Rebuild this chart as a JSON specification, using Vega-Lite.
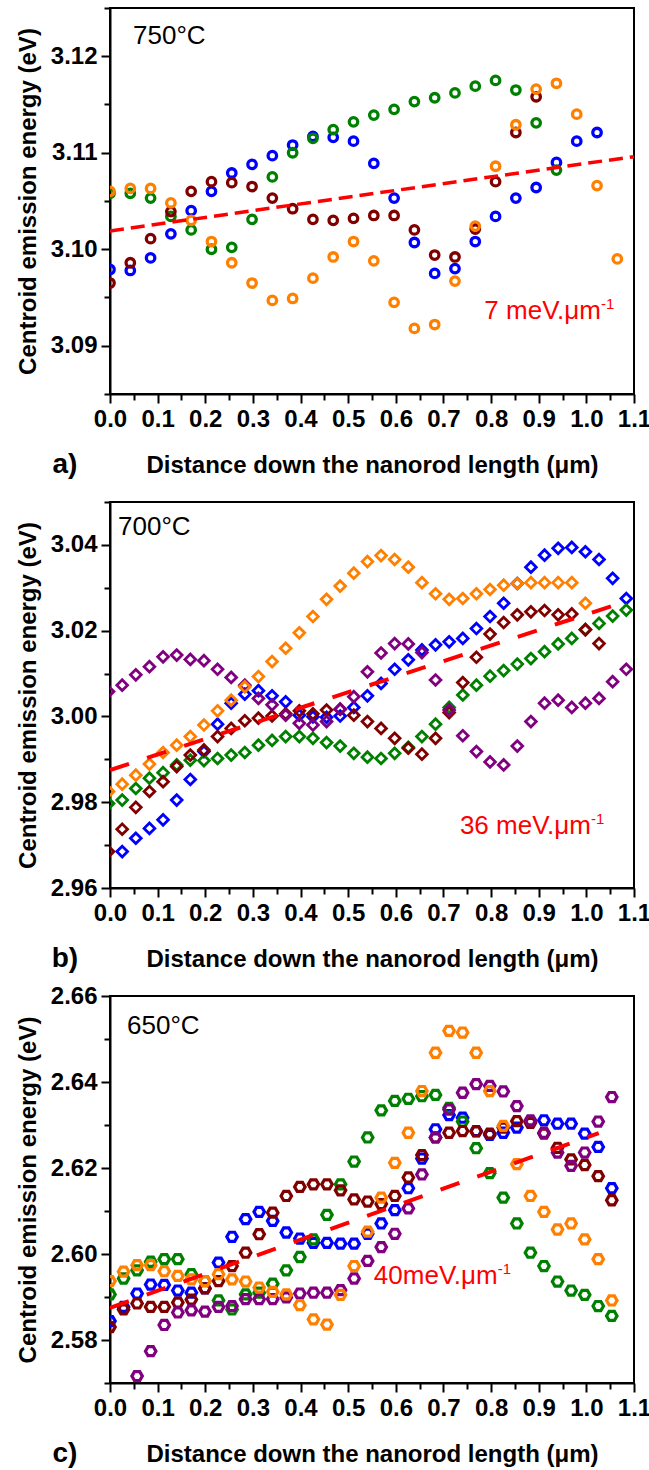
{
"$schema":"https://vega.github.io/schema/vega-lite/v6.json",
"padding":{"left":15,"top":6,"right":0,"bottom":0},
"spacing":108,
"bounds":"flush",
"config":{
"font":"Liberation Sans",
"view":{"stroke":"black","strokeWidth":2},
"axis":{"labelFont":"Liberation Sans","labelFontSize":24,"labelFontWeight":"bold","labelColor":"black","titleFont":"Liberation Sans","titleFontSize":24,"titleFontWeight":"bold","titleColor":"black","tickColor":"black","tickWidth":2,"domainColor":"black","domainWidth":2,"grid":false,"labelFlush":false,"labelOverlap":false}
},
"datasets":{
"a":[
{"s":"blue","x":0,"y":3.0979},{"s":"blue","x":0.0426,"y":3.0978},{"s":"blue","x":0.0852,"y":3.0991},{"s":"blue","x":0.1278,"y":3.1016},{"s":"blue","x":0.1704,"y":3.104},{"s":"blue","x":0.213,"y":3.106},{"s":"blue","x":0.2556,"y":3.1079},{"s":"blue","x":0.2982,"y":3.1088},{"s":"blue","x":0.3408,"y":3.1097},{"s":"blue","x":0.3834,"y":3.1108},{"s":"blue","x":0.426,"y":3.1117},{"s":"blue","x":0.4686,"y":3.1116},{"s":"blue","x":0.5112,"y":3.1112},{"s":"blue","x":0.5538,"y":3.1089},{"s":"blue","x":0.5964,"y":3.1053},{"s":"blue","x":0.639,"y":3.1007},{"s":"blue","x":0.6816,"y":3.0975},{"s":"blue","x":0.7242,"y":3.098},{"s":"blue","x":0.7668,"y":3.1008},{"s":"blue","x":0.8094,"y":3.1034},{"s":"blue","x":0.852,"y":3.1053},{"s":"blue","x":0.8946,"y":3.1064},{"s":"blue","x":0.9372,"y":3.109},{"s":"blue","x":0.9798,"y":3.1112},{"s":"blue","x":1.0224,"y":3.1121},
{"s":"green","x":0,"y":3.1058},{"s":"green","x":0.0426,"y":3.1058},{"s":"green","x":0.0852,"y":3.1053},{"s":"green","x":0.1278,"y":3.1034},{"s":"green","x":0.1704,"y":3.102},{"s":"green","x":0.213,"y":3.1},{"s":"green","x":0.2556,"y":3.1002},{"s":"green","x":0.2982,"y":3.1031},{"s":"green","x":0.3408,"y":3.1075},{"s":"green","x":0.3834,"y":3.11},{"s":"green","x":0.426,"y":3.1115},{"s":"green","x":0.4686,"y":3.1124},{"s":"green","x":0.5112,"y":3.1132},{"s":"green","x":0.5538,"y":3.1139},{"s":"green","x":0.5964,"y":3.1145},{"s":"green","x":0.639,"y":3.1153},{"s":"green","x":0.6816,"y":3.1157},{"s":"green","x":0.7242,"y":3.1162},{"s":"green","x":0.7668,"y":3.1169},{"s":"green","x":0.8094,"y":3.1175},{"s":"green","x":0.852,"y":3.1165},{"s":"green","x":0.8946,"y":3.1131},{"s":"green","x":0.9372,"y":3.1082},
{"s":"darkred","x":0,"y":3.0965},{"s":"darkred","x":0.0426,"y":3.0986},{"s":"darkred","x":0.0852,"y":3.1011},{"s":"darkred","x":0.1278,"y":3.1039},{"s":"darkred","x":0.1704,"y":3.106},{"s":"darkred","x":0.213,"y":3.107},{"s":"darkred","x":0.2556,"y":3.1069},{"s":"darkred","x":0.2982,"y":3.1065},{"s":"darkred","x":0.3408,"y":3.1053},{"s":"darkred","x":0.3834,"y":3.1042},{"s":"darkred","x":0.426,"y":3.1031},{"s":"darkred","x":0.4686,"y":3.103},{"s":"darkred","x":0.5112,"y":3.1032},{"s":"darkred","x":0.5538,"y":3.1035},{"s":"darkred","x":0.5964,"y":3.1035},{"s":"darkred","x":0.639,"y":3.102},{"s":"darkred","x":0.6816,"y":3.0994},{"s":"darkred","x":0.7242,"y":3.0992},{"s":"darkred","x":0.7668,"y":3.1021},{"s":"darkred","x":0.8094,"y":3.107},{"s":"darkred","x":0.852,"y":3.1121},{"s":"darkred","x":0.8946,"y":3.1158},
{"s":"orange","x":0,"y":3.106},{"s":"orange","x":0.0426,"y":3.1063},{"s":"orange","x":0.0852,"y":3.1063},{"s":"orange","x":0.1278,"y":3.1048},{"s":"orange","x":0.1704,"y":3.103},{"s":"orange","x":0.213,"y":3.1008},{"s":"orange","x":0.2556,"y":3.0986},{"s":"orange","x":0.2982,"y":3.0965},{"s":"orange","x":0.3408,"y":3.0947},{"s":"orange","x":0.3834,"y":3.0949},{"s":"orange","x":0.426,"y":3.097},{"s":"orange","x":0.4686,"y":3.0992},{"s":"orange","x":0.5112,"y":3.1008},{"s":"orange","x":0.5538,"y":3.0988},{"s":"orange","x":0.5964,"y":3.0945},{"s":"orange","x":0.639,"y":3.0918},{"s":"orange","x":0.6816,"y":3.0922},{"s":"orange","x":0.7242,"y":3.0967},{"s":"orange","x":0.7668,"y":3.1024},{"s":"orange","x":0.8094,"y":3.1086},{"s":"orange","x":0.852,"y":3.1129},{"s":"orange","x":0.8946,"y":3.1166},{"s":"orange","x":0.9372,"y":3.1172},{"s":"orange","x":0.9798,"y":3.114},{"s":"orange","x":1.0224,"y":3.1066},{"s":"orange","x":1.065,"y":3.099}
],
"b":[
{"s":"blue","x":0.0256,"y":2.9685},{"s":"blue","x":0.0542,"y":2.9716},{"s":"blue","x":0.0828,"y":2.9739},{"s":"blue","x":0.1114,"y":2.9759},{"s":"blue","x":0.14,"y":2.9805},{"s":"blue","x":0.1686,"y":2.9853},{"s":"blue","x":0.1972,"y":2.9918},{"s":"blue","x":0.2258,"y":2.9982},{"s":"blue","x":0.2544,"y":3.0031},{"s":"blue","x":0.283,"y":3.0052},{"s":"blue","x":0.3116,"y":3.006},{"s":"blue","x":0.3402,"y":3.0048},{"s":"blue","x":0.3688,"y":3.0034},{"s":"blue","x":0.3974,"y":3.0003},{"s":"blue","x":0.426,"y":2.9999},{"s":"blue","x":0.4546,"y":2.9998},{"s":"blue","x":0.4832,"y":3.0001},{"s":"blue","x":0.5118,"y":3.0021},{"s":"blue","x":0.5404,"y":3.0048},{"s":"blue","x":0.569,"y":3.0077},{"s":"blue","x":0.5976,"y":3.011},{"s":"blue","x":0.6262,"y":3.0132},{"s":"blue","x":0.6548,"y":3.0155},{"s":"blue","x":0.6834,"y":3.0167},{"s":"blue","x":0.712,"y":3.0174},{"s":"blue","x":0.7406,"y":3.0182},{"s":"blue","x":0.7692,"y":3.0205},{"s":"blue","x":0.7978,"y":3.0233},{"s":"blue","x":0.8264,"y":3.0264},{"s":"blue","x":0.855,"y":3.031},{"s":"blue","x":0.8836,"y":3.0348},{"s":"blue","x":0.9122,"y":3.0376},{"s":"blue","x":0.9408,"y":3.0392},{"s":"blue","x":0.9694,"y":3.0394},{"s":"blue","x":0.998,"y":3.0384},{"s":"blue","x":1.0266,"y":3.0366},{"s":"blue","x":1.0552,"y":3.0322},{"s":"blue","x":1.0838,"y":3.0275},
{"s":"green","x":-0.003,"y":2.9797},{"s":"green","x":0.0256,"y":2.9805},{"s":"green","x":0.0542,"y":2.9832},{"s":"green","x":0.0828,"y":2.9856},{"s":"green","x":0.1114,"y":2.9869},{"s":"green","x":0.14,"y":2.9887},{"s":"green","x":0.1686,"y":2.9898},{"s":"green","x":0.1972,"y":2.9897},{"s":"green","x":0.2258,"y":2.9902},{"s":"green","x":0.2544,"y":2.991},{"s":"green","x":0.283,"y":2.9916},{"s":"green","x":0.3116,"y":2.9933},{"s":"green","x":0.3402,"y":2.9944},{"s":"green","x":0.3688,"y":2.9953},{"s":"green","x":0.3974,"y":2.9953},{"s":"green","x":0.426,"y":2.9949},{"s":"green","x":0.4546,"y":2.9939},{"s":"green","x":0.4832,"y":2.9931},{"s":"green","x":0.5118,"y":2.9914},{"s":"green","x":0.5404,"y":2.9905},{"s":"green","x":0.569,"y":2.9902},{"s":"green","x":0.5976,"y":2.9914},{"s":"green","x":0.6262,"y":2.9928},{"s":"green","x":0.6548,"y":2.9953},{"s":"green","x":0.6834,"y":2.9982},{"s":"green","x":0.712,"y":3.0021},{"s":"green","x":0.7406,"y":3.005},{"s":"green","x":0.7692,"y":3.0073},{"s":"green","x":0.7978,"y":3.0094},{"s":"green","x":0.8264,"y":3.0107},{"s":"green","x":0.855,"y":3.0122},{"s":"green","x":0.8836,"y":3.0135},{"s":"green","x":0.9122,"y":3.0151},{"s":"green","x":0.9408,"y":3.0169},{"s":"green","x":0.9694,"y":3.0182},{"s":"green","x":0.998,"y":3.0203},{"s":"green","x":1.0266,"y":3.0217},{"s":"green","x":1.0552,"y":3.0234},{"s":"green","x":1.0838,"y":3.0248},
{"s":"darkred","x":-0.003,"y":2.9685},{"s":"darkred","x":0.0256,"y":2.9737},{"s":"darkred","x":0.0542,"y":2.9788},{"s":"darkred","x":0.0828,"y":2.9825},{"s":"darkred","x":0.1114,"y":2.9848},{"s":"darkred","x":0.14,"y":2.9883},{"s":"darkred","x":0.1686,"y":2.991},{"s":"darkred","x":0.1972,"y":2.9922},{"s":"darkred","x":0.2258,"y":2.9953},{"s":"darkred","x":0.2544,"y":2.9972},{"s":"darkred","x":0.283,"y":2.999},{"s":"darkred","x":0.3116,"y":2.9996},{"s":"darkred","x":0.3402,"y":3.0001},{"s":"darkred","x":0.3688,"y":3.0006},{"s":"darkred","x":0.3974,"y":3.0013},{"s":"darkred","x":0.426,"y":3.0006},{"s":"darkred","x":0.4546,"y":3.0015},{"s":"darkred","x":0.4832,"y":3.0017},{"s":"darkred","x":0.5118,"y":3.0003},{"s":"darkred","x":0.5404,"y":2.9988},{"s":"darkred","x":0.569,"y":2.9972},{"s":"darkred","x":0.5976,"y":2.9949},{"s":"darkred","x":0.6262,"y":2.9926},{"s":"darkred","x":0.6548,"y":2.9912},{"s":"darkred","x":0.6834,"y":2.9949},{"s":"darkred","x":0.712,"y":3.0009},{"s":"darkred","x":0.7406,"y":3.0079},{"s":"darkred","x":0.7692,"y":3.0138},{"s":"darkred","x":0.7978,"y":3.0192},{"s":"darkred","x":0.8264,"y":3.0219},{"s":"darkred","x":0.855,"y":3.0237},{"s":"darkred","x":0.8836,"y":3.0244},{"s":"darkred","x":0.9122,"y":3.0247},{"s":"darkred","x":0.9408,"y":3.0237},{"s":"darkred","x":0.9694,"y":3.0239},{"s":"darkred","x":0.998,"y":3.0202},{"s":"darkred","x":1.0266,"y":3.017},
{"s":"purple","x":-0.003,"y":3.0058},{"s":"purple","x":0.0256,"y":3.0073},{"s":"purple","x":0.0542,"y":3.0097},{"s":"purple","x":0.0828,"y":3.0116},{"s":"purple","x":0.1114,"y":3.0139},{"s":"purple","x":0.14,"y":3.0143},{"s":"purple","x":0.1686,"y":3.0133},{"s":"purple","x":0.1972,"y":3.013},{"s":"purple","x":0.2258,"y":3.011},{"s":"purple","x":0.2544,"y":3.0091},{"s":"purple","x":0.283,"y":3.0073},{"s":"purple","x":0.3116,"y":3.0042},{"s":"purple","x":0.3402,"y":3.0027},{"s":"purple","x":0.3688,"y":3.0003},{"s":"purple","x":0.3974,"y":2.9984},{"s":"purple","x":0.426,"y":2.998},{"s":"purple","x":0.4546,"y":2.9988},{"s":"purple","x":0.4832,"y":3.0017},{"s":"purple","x":0.5118,"y":3.0046},{"s":"purple","x":0.5404,"y":3.0104},{"s":"purple","x":0.569,"y":3.0148},{"s":"purple","x":0.5976,"y":3.017},{"s":"purple","x":0.6262,"y":3.0169},{"s":"purple","x":0.6548,"y":3.0149},{"s":"purple","x":0.6834,"y":3.0085},{"s":"purple","x":0.712,"y":3.0015},{"s":"purple","x":0.7406,"y":2.9955},{"s":"purple","x":0.7692,"y":2.9918},{"s":"purple","x":0.7978,"y":2.9894},{"s":"purple","x":0.8264,"y":2.9887},{"s":"purple","x":0.855,"y":2.9931},{"s":"purple","x":0.8836,"y":2.9988},{"s":"purple","x":0.9122,"y":3.0031},{"s":"purple","x":0.9408,"y":3.0038},{"s":"purple","x":0.9694,"y":3.0021},{"s":"purple","x":0.998,"y":3.0031},{"s":"purple","x":1.0266,"y":3.0042},{"s":"purple","x":1.0552,"y":3.0081},{"s":"purple","x":1.0838,"y":3.011},
{"s":"orange","x":-0.003,"y":2.9825},{"s":"orange","x":0.0256,"y":2.9842},{"s":"orange","x":0.0542,"y":2.9863},{"s":"orange","x":0.0828,"y":2.9889},{"s":"orange","x":0.1114,"y":2.9916},{"s":"orange","x":0.14,"y":2.9933},{"s":"orange","x":0.1686,"y":2.9953},{"s":"orange","x":0.1972,"y":2.998},{"s":"orange","x":0.2258,"y":3.0013},{"s":"orange","x":0.2544,"y":3.0038},{"s":"orange","x":0.283,"y":3.0069},{"s":"orange","x":0.3116,"y":3.0093},{"s":"orange","x":0.3402,"y":3.0128},{"s":"orange","x":0.3688,"y":3.0159},{"s":"orange","x":0.3974,"y":3.0195},{"s":"orange","x":0.426,"y":3.0233},{"s":"orange","x":0.4546,"y":3.0273},{"s":"orange","x":0.4832,"y":3.0304},{"s":"orange","x":0.5118,"y":3.0334},{"s":"orange","x":0.5404,"y":3.0361},{"s":"orange","x":0.569,"y":3.0375},{"s":"orange","x":0.5976,"y":3.0366},{"s":"orange","x":0.6262,"y":3.0348},{"s":"orange","x":0.6548,"y":3.0312},{"s":"orange","x":0.6834,"y":3.0286},{"s":"orange","x":0.712,"y":3.0273},{"s":"orange","x":0.7406,"y":3.0275},{"s":"orange","x":0.7692,"y":3.0286},{"s":"orange","x":0.7978,"y":3.0296},{"s":"orange","x":0.8264,"y":3.0306},{"s":"orange","x":0.855,"y":3.031},{"s":"orange","x":0.8836,"y":3.0312},{"s":"orange","x":0.9122,"y":3.0312},{"s":"orange","x":0.9408,"y":3.0312},{"s":"orange","x":0.9694,"y":3.0312},{"s":"orange","x":0.998,"y":3.0264}
],
"c":[
{"s":"blue","x":0,"y":2.5844},{"s":"blue","x":0.0285,"y":2.5877},{"s":"blue","x":0.0569,"y":2.5908},{"s":"blue","x":0.0854,"y":2.5929},{"s":"blue","x":0.1139,"y":2.5928},{"s":"blue","x":0.1424,"y":2.5915},{"s":"blue","x":0.1708,"y":2.591},{"s":"blue","x":0.1993,"y":2.592},{"s":"blue","x":0.2278,"y":2.598},{"s":"blue","x":0.2562,"y":2.604},{"s":"blue","x":0.2847,"y":2.6081},{"s":"blue","x":0.3132,"y":2.6098},{"s":"blue","x":0.3416,"y":2.6077},{"s":"blue","x":0.3701,"y":2.605},{"s":"blue","x":0.3986,"y":2.6036},{"s":"blue","x":0.4271,"y":2.6026},{"s":"blue","x":0.4555,"y":2.6026},{"s":"blue","x":0.484,"y":2.6024},{"s":"blue","x":0.5125,"y":2.6024},{"s":"blue","x":0.5409,"y":2.6047},{"s":"blue","x":0.5694,"y":2.6071},{"s":"blue","x":0.5979,"y":2.6102},{"s":"blue","x":0.6263,"y":2.6153},{"s":"blue","x":0.6548,"y":2.6222},{"s":"blue","x":0.6833,"y":2.629},{"s":"blue","x":0.7118,"y":2.6323},{"s":"blue","x":0.7402,"y":2.6317},{"s":"blue","x":0.7687,"y":2.6286},{"s":"blue","x":0.7972,"y":2.6277},{"s":"blue","x":0.8256,"y":2.6282},{"s":"blue","x":0.8541,"y":2.6294},{"s":"blue","x":0.8826,"y":2.6308},{"s":"blue","x":0.911,"y":2.6311},{"s":"blue","x":0.9395,"y":2.6303},{"s":"blue","x":0.968,"y":2.6303},{"s":"blue","x":0.9965,"y":2.628},{"s":"blue","x":1.0249,"y":2.6249},{"s":"blue","x":1.0534,"y":2.6153},
{"s":"green","x":0,"y":2.5906},{"s":"green","x":0.0285,"y":2.5943},{"s":"green","x":0.0569,"y":2.5962},{"s":"green","x":0.0854,"y":2.5982},{"s":"green","x":0.1139,"y":2.5988},{"s":"green","x":0.1424,"y":2.5988},{"s":"green","x":0.1708,"y":2.5953},{"s":"green","x":0.1993,"y":2.5937},{"s":"green","x":0.2278,"y":2.5892},{"s":"green","x":0.2562,"y":2.5871},{"s":"green","x":0.2847,"y":2.5906},{"s":"green","x":0.3132,"y":2.591},{"s":"green","x":0.3416,"y":2.5931},{"s":"green","x":0.3701,"y":2.5962},{"s":"green","x":0.3986,"y":2.5993},{"s":"green","x":0.4271,"y":2.6034},{"s":"green","x":0.4555,"y":2.6091},{"s":"green","x":0.484,"y":2.6162},{"s":"green","x":0.5125,"y":2.6215},{"s":"green","x":0.5409,"y":2.6271},{"s":"green","x":0.5694,"y":2.6334},{"s":"green","x":0.5979,"y":2.6356},{"s":"green","x":0.6263,"y":2.6361},{"s":"green","x":0.6548,"y":2.6367},{"s":"green","x":0.6833,"y":2.637},{"s":"green","x":0.7118,"y":2.634},{"s":"green","x":0.7402,"y":2.6308},{"s":"green","x":0.7687,"y":2.6246},{"s":"green","x":0.7972,"y":2.6188},{"s":"green","x":0.8256,"y":2.6131},{"s":"green","x":0.8541,"y":2.6071},{"s":"green","x":0.8826,"y":2.6003},{"s":"green","x":0.911,"y":2.5972},{"s":"green","x":0.9395,"y":2.5936},{"s":"green","x":0.968,"y":2.5915},{"s":"green","x":0.9965,"y":2.5905},{"s":"green","x":1.0249,"y":2.5879},{"s":"green","x":1.0534,"y":2.5856},
{"s":"darkred","x":0,"y":2.583},{"s":"darkred","x":0.0285,"y":2.5871},{"s":"darkred","x":0.0569,"y":2.5885},{"s":"darkred","x":0.0854,"y":2.5877},{"s":"darkred","x":0.1139,"y":2.5877},{"s":"darkred","x":0.1424,"y":2.5887},{"s":"darkred","x":0.1708,"y":2.5894},{"s":"darkred","x":0.1993,"y":2.592},{"s":"darkred","x":0.2278,"y":2.5937},{"s":"darkred","x":0.2562,"y":2.5972},{"s":"darkred","x":0.2847,"y":2.6003},{"s":"darkred","x":0.3132,"y":2.6046},{"s":"darkred","x":0.3416,"y":2.6096},{"s":"darkred","x":0.3701,"y":2.6135},{"s":"darkred","x":0.3986,"y":2.6156},{"s":"darkred","x":0.4271,"y":2.6162},{"s":"darkred","x":0.4555,"y":2.6162},{"s":"darkred","x":0.484,"y":2.6148},{"s":"darkred","x":0.5125,"y":2.6127},{"s":"darkred","x":0.5409,"y":2.6122},{"s":"darkred","x":0.5694,"y":2.6116},{"s":"darkred","x":0.5979,"y":2.6135},{"s":"darkred","x":0.6263,"y":2.6178},{"s":"darkred","x":0.6548,"y":2.623},{"s":"darkred","x":0.6833,"y":2.6271},{"s":"darkred","x":0.7118,"y":2.6282},{"s":"darkred","x":0.7402,"y":2.6286},{"s":"darkred","x":0.7687,"y":2.6285},{"s":"darkred","x":0.7972,"y":2.628},{"s":"darkred","x":0.8256,"y":2.6294},{"s":"darkred","x":0.8541,"y":2.6309},{"s":"darkred","x":0.8826,"y":2.6305},{"s":"darkred","x":0.911,"y":2.628},{"s":"darkred","x":0.9395,"y":2.6247},{"s":"darkred","x":0.968,"y":2.622},{"s":"darkred","x":0.9965,"y":2.6207},{"s":"darkred","x":1.0249,"y":2.6181},{"s":"darkred","x":1.0534,"y":2.6125},
{"s":"purple","x":0.0569,"y":2.5716},{"s":"purple","x":0.0854,"y":2.5774},{"s":"purple","x":0.1139,"y":2.5835},{"s":"purple","x":0.1424,"y":2.5864},{"s":"purple","x":0.1708,"y":2.5869},{"s":"purple","x":0.1993,"y":2.5866},{"s":"purple","x":0.2278,"y":2.5877},{"s":"purple","x":0.2562,"y":2.5879},{"s":"purple","x":0.2847,"y":2.5895},{"s":"purple","x":0.3132,"y":2.5895},{"s":"purple","x":0.3416,"y":2.5895},{"s":"purple","x":0.3701,"y":2.5899},{"s":"purple","x":0.3986,"y":2.5908},{"s":"purple","x":0.4271,"y":2.591},{"s":"purple","x":0.4555,"y":2.591},{"s":"purple","x":0.484,"y":2.5916},{"s":"purple","x":0.5125,"y":2.5943},{"s":"purple","x":0.5409,"y":2.5984},{"s":"purple","x":0.5694,"y":2.6016},{"s":"purple","x":0.5979,"y":2.6047},{"s":"purple","x":0.6263,"y":2.6106},{"s":"purple","x":0.6548,"y":2.6185},{"s":"purple","x":0.6833,"y":2.6271},{"s":"purple","x":0.7118,"y":2.6336},{"s":"purple","x":0.7402,"y":2.6375},{"s":"purple","x":0.7687,"y":2.6395},{"s":"purple","x":0.7972,"y":2.6391},{"s":"purple","x":0.8256,"y":2.6378},{"s":"purple","x":0.8541,"y":2.6344},{"s":"purple","x":0.8826,"y":2.6311},{"s":"purple","x":0.911,"y":2.6282},{"s":"purple","x":0.9395,"y":2.6236},{"s":"purple","x":0.968,"y":2.6205},{"s":"purple","x":0.9965,"y":2.6236},{"s":"purple","x":1.0249,"y":2.6308},{"s":"purple","x":1.0534,"y":2.6365},
{"s":"orange","x":0,"y":2.5937},{"s":"orange","x":0.0285,"y":2.5959},{"s":"orange","x":0.0569,"y":2.5974},{"s":"orange","x":0.0854,"y":2.5974},{"s":"orange","x":0.1139,"y":2.596},{"s":"orange","x":0.1424,"y":2.5949},{"s":"orange","x":0.1708,"y":2.5941},{"s":"orange","x":0.1993,"y":2.5937},{"s":"orange","x":0.2278,"y":2.5953},{"s":"orange","x":0.2562,"y":2.5941},{"s":"orange","x":0.2847,"y":2.5936},{"s":"orange","x":0.3132,"y":2.5922},{"s":"orange","x":0.3416,"y":2.5912},{"s":"orange","x":0.3701,"y":2.5906},{"s":"orange","x":0.3986,"y":2.5881},{"s":"orange","x":0.4271,"y":2.5848},{"s":"orange","x":0.4555,"y":2.5836},{"s":"orange","x":0.484,"y":2.5905},{"s":"orange","x":0.5125,"y":2.5972},{"s":"orange","x":0.5409,"y":2.6052},{"s":"orange","x":0.5694,"y":2.6131},{"s":"orange","x":0.5979,"y":2.6212},{"s":"orange","x":0.6263,"y":2.6282},{"s":"orange","x":0.6548,"y":2.6379},{"s":"orange","x":0.6833,"y":2.6468},{"s":"orange","x":0.7118,"y":2.6519},{"s":"orange","x":0.7402,"y":2.6515},{"s":"orange","x":0.7687,"y":2.6468},{"s":"orange","x":0.7972,"y":2.6379},{"s":"orange","x":0.8256,"y":2.6298},{"s":"orange","x":0.8541,"y":2.6209},{"s":"orange","x":0.8826,"y":2.6135},{"s":"orange","x":0.911,"y":2.6098},{"s":"orange","x":0.9395,"y":2.6057},{"s":"orange","x":0.968,"y":2.6071},{"s":"orange","x":0.9965,"y":2.6034},{"s":"orange","x":1.0249,"y":2.5988},{"s":"orange","x":1.0534,"y":2.5892}
]
},
"vconcat":[
{"width":524,"height":386,
"layer":[
{"data":{"name":"a"},
"mark":{"type":"point","shape":"circle","filled":false,"size":72,"strokeWidth":3.3,"opacity":1,"clip":true},
"encoding":{
"x":{"field":"x","type":"quantitative","scale":{"domain":[0,1.1],"nice":false,"zero":false},"axis":{"orient":"bottom","values":[0,0.1,0.2,0.3,0.4,0.5,0.6,0.7,0.8,0.9,1.0,1.1],"format":".1f","tickSize":9,"labelPadding":4,"title":"Distance down the nanorod length (μm)","titlePadding":22}},
"y":{"field":"y","type":"quantitative","scale":{"domain":[3.085,3.125],"nice":false,"zero":false},"axis":{"orient":"left","values":[3.09,3.1,3.11,3.12],"format":".2f","tickSize":9,"labelPadding":4,"title":"Centroid emission energy (eV)","titlePadding":10}},
"color":{"field":"s","type":"nominal","scale":{"domain":["blue","green","darkred","purple","orange"],"range":["#0000FF","#008000","#800000","#800080","#FF8000"]},"legend":null}}},
{"data":{"values":[{"x":0,"y":3.1019},{"x":1.1,"y":3.1096}]},
"mark":{"type":"line","color":"#FF0000","strokeWidth":3.5,"strokeDash":[14,7],"clip":true},
"encoding":{
"x":{"field":"x","type":"quantitative","axis":{"orient":"bottom","values":[0.05,0.15,0.25,0.35,0.45,0.55,0.65,0.75,0.85,0.95,1.05],"tickSize":6,"labels":false,"domain":false,"title":null}},
"y":{"field":"y","type":"quantitative","axis":{"orient":"left","values":[3.085,3.095,3.105,3.115,3.125],"tickSize":6,"labels":false,"domain":false,"title":null}}}},
{"data":{"values":[{"x":0.0483,"y":3.1213,"t":"750°C"}]},
"mark":{"type":"text","align":"left","baseline":"alphabetic","fontSize":26,"font":"Liberation Sans","color":"black"},
"encoding":{"x":{"field":"x","type":"quantitative","axis":null},"y":{"field":"y","type":"quantitative","axis":null},"text":{"field":"t"}}},
{"data":{"values":[{"x":1.0307,"y":3.0928,"t":"7 meV.μm"}]},
"mark":{"type":"text","align":"right","baseline":"alphabetic","fontSize":26,"font":"Liberation Sans","color":"#FF0000"},
"encoding":{"x":{"field":"x","type":"quantitative","axis":null},"y":{"field":"y","type":"quantitative","axis":null},"text":{"field":"t"}}},
{"data":{"values":[{"x":1.0307,"y":3.0928,"t":"-1"}]},
"mark":{"type":"text","align":"left","baseline":"alphabetic","fontSize":15,"dy":-10,"font":"Liberation Sans","color":"#FF0000"},
"encoding":{"x":{"field":"x","type":"quantitative","axis":null},"y":{"field":"y","type":"quantitative","axis":null},"text":{"field":"t"}}},
{"data":{"values":[{"x":-0.0945,"y":3.0768,"t":"a)"}]},
"mark":{"type":"text","align":"center","baseline":"alphabetic","fontSize":28,"fontWeight":"bold","font":"Liberation Sans","color":"black"},
"encoding":{"x":{"field":"x","type":"quantitative","axis":null},"y":{"field":"y","type":"quantitative","axis":null},"text":{"field":"t"}}}
],
"resolve":{"axis":{"x":"independent","y":"independent"}}
},
{"width":524,"height":386,
"layer":[
{"data":{"name":"b"},
"mark":{"type":"point","shape":"diamond","filled":false,"size":115,"strokeWidth":2.8,"opacity":1,"clip":true},
"encoding":{
"x":{"field":"x","type":"quantitative","scale":{"domain":[0,1.1],"nice":false,"zero":false},"axis":{"orient":"bottom","values":[0,0.1,0.2,0.3,0.4,0.5,0.6,0.7,0.8,0.9,1.0,1.1],"format":".1f","tickSize":9,"labelPadding":4,"title":"Distance down the nanorod length (μm)","titlePadding":22}},
"y":{"field":"y","type":"quantitative","scale":{"domain":[2.96,3.05],"nice":false,"zero":false},"axis":{"orient":"left","values":[2.96,2.98,3.0,3.02,3.04],"format":".2f","tickSize":9,"labelPadding":4,"title":"Centroid emission energy (eV)","titlePadding":10}},
"color":{"field":"s","type":"nominal","scale":{"domain":["blue","green","darkred","purple","orange"],"range":["#0000FF","#008000","#800000","#800080","#FF8000"]},"legend":null}}},
{"data":{"values":[{"x":0,"y":2.9875},{"x":1.058,"y":3.0259}]},
"mark":{"type":"line","color":"#FF0000","strokeWidth":4,"strokeDash":[20,19],"clip":true},
"encoding":{
"x":{"field":"x","type":"quantitative","axis":{"orient":"bottom","values":[0.05,0.15,0.25,0.35,0.45,0.55,0.65,0.75,0.85,0.95,1.05],"tickSize":6,"labels":false,"domain":false,"title":null}},
"y":{"field":"y","type":"quantitative","axis":{"orient":"left","values":[2.97,2.99,3.01,3.03,3.05],"tickSize":6,"labels":false,"domain":false,"title":null}}}},
{"data":{"values":[{"x":0.0168,"y":3.0423,"t":"700°C"}]},
"mark":{"type":"text","align":"left","baseline":"alphabetic","fontSize":26,"font":"Liberation Sans","color":"black"},
"encoding":{"x":{"field":"x","type":"quantitative","axis":null},"y":{"field":"y","type":"quantitative","axis":null},"text":{"field":"t"}}},
{"data":{"values":[{"x":1.0097,"y":2.9726,"t":"36 meV.μm"}]},
"mark":{"type":"text","align":"right","baseline":"alphabetic","fontSize":26,"font":"Liberation Sans","color":"#FF0000"},
"encoding":{"x":{"field":"x","type":"quantitative","axis":null},"y":{"field":"y","type":"quantitative","axis":null},"text":{"field":"t"}}},
{"data":{"values":[{"x":1.0097,"y":2.9726,"t":"-1"}]},
"mark":{"type":"text","align":"left","baseline":"alphabetic","fontSize":15,"dy":-10,"font":"Liberation Sans","color":"#FF0000"},
"encoding":{"x":{"field":"x","type":"quantitative","axis":null},"y":{"field":"y","type":"quantitative","axis":null},"text":{"field":"t"}}},
{"data":{"values":[{"x":-0.0945,"y":2.9416,"t":"b)"}]},
"mark":{"type":"text","align":"center","baseline":"alphabetic","fontSize":28,"fontWeight":"bold","font":"Liberation Sans","color":"black"},
"encoding":{"x":{"field":"x","type":"quantitative","axis":null},"y":{"field":"y","type":"quantitative","axis":null},"text":{"field":"t"}}}
],
"resolve":{"axis":{"x":"independent","y":"independent"}}
},
{"width":524,"height":387,
"layer":[
{"data":{"name":"c"},
"mark":{"type":"point","shape":"M-1,0L-0.5,-0.866L0.5,-0.866L1,0L0.5,0.866L-0.5,0.866Z","filled":false,"size":110,"strokeWidth":3.2,"opacity":1,"clip":true},
"encoding":{
"x":{"field":"x","type":"quantitative","scale":{"domain":[0,1.1],"nice":false,"zero":false},"axis":{"orient":"bottom","values":[0,0.1,0.2,0.3,0.4,0.5,0.6,0.7,0.8,0.9,1.0,1.1],"format":".1f","tickSize":9,"labelPadding":4,"title":"Distance down the nanorod length (μm)","titlePadding":22}},
"y":{"field":"y","type":"quantitative","scale":{"domain":[2.57,2.66],"nice":false,"zero":false},"axis":{"orient":"left","values":[2.58,2.6,2.62,2.64,2.66],"format":".2f","tickSize":9,"labelPadding":4,"title":"Centroid emission energy (eV)","titlePadding":10}},
"color":{"field":"s","type":"nominal","scale":{"domain":["blue","green","darkred","purple","orange"],"range":["#0000FF","#008000","#800000","#800080","#FF8000"]},"legend":null}}},
{"data":{"values":[{"x":0,"y":2.5875},{"x":1.026,"y":2.6281}]},
"mark":{"type":"line","color":"#FF0000","strokeWidth":4,"strokeDash":[20,19],"clip":true},
"encoding":{
"x":{"field":"x","type":"quantitative","axis":{"orient":"bottom","values":[0.05,0.15,0.25,0.35,0.45,0.55,0.65,0.75,0.85,0.95,1.05],"tickSize":6,"labels":false,"domain":false,"title":null}},
"y":{"field":"y","type":"quantitative","axis":{"orient":"left","values":[2.57,2.59,2.61,2.63,2.65],"tickSize":6,"labels":false,"domain":false,"title":null}}}},
{"data":{"values":[{"x":0.0357,"y":2.6512,"t":"650°C"}]},
"mark":{"type":"text","align":"left","baseline":"alphabetic","fontSize":26,"font":"Liberation Sans","color":"black"},
"encoding":{"x":{"field":"x","type":"quantitative","axis":null},"y":{"field":"y","type":"quantitative","axis":null},"text":{"field":"t"}}},
{"data":{"values":[{"x":0.8139,"y":2.593,"t":"40meV.μm"}]},
"mark":{"type":"text","align":"right","baseline":"alphabetic","fontSize":26,"font":"Liberation Sans","color":"#FF0000"},
"encoding":{"x":{"field":"x","type":"quantitative","axis":null},"y":{"field":"y","type":"quantitative","axis":null},"text":{"field":"t"}}},
{"data":{"values":[{"x":0.8139,"y":2.593,"t":"-1"}]},
"mark":{"type":"text","align":"left","baseline":"alphabetic","fontSize":15,"dy":-10,"font":"Liberation Sans","color":"#FF0000"},
"encoding":{"x":{"field":"x","type":"quantitative","axis":null},"y":{"field":"y","type":"quantitative","axis":null},"text":{"field":"t"}}},
{"data":{"values":[{"x":-0.0945,"y":2.5516,"t":"c)"}]},
"mark":{"type":"text","align":"center","baseline":"alphabetic","fontSize":28,"fontWeight":"bold","font":"Liberation Sans","color":"black"},
"encoding":{"x":{"field":"x","type":"quantitative","axis":null},"y":{"field":"y","type":"quantitative","axis":null},"text":{"field":"t"}}}
],
"resolve":{"axis":{"x":"independent","y":"independent"}}
}
]
}
